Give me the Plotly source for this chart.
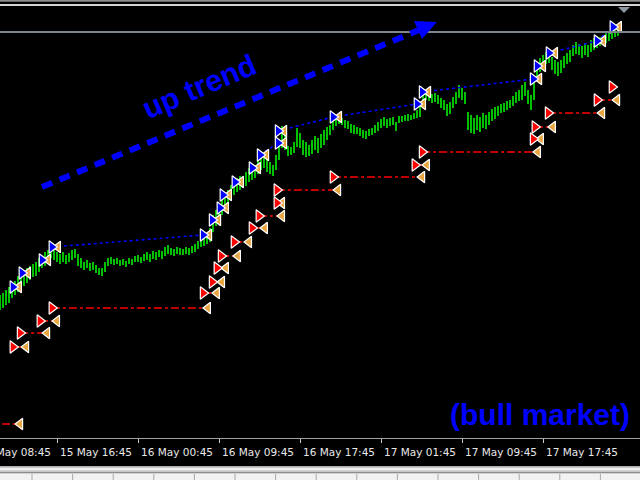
import plotly.graph_objects as go

# ---------------- data ----------------
bar_high = [
    1.3145, 1.3147, 1.3150, 1.3153, 1.3157, 1.3159, 1.3164, 1.3168, 1.3170, 1.3172,
    1.3174, 1.3176, 1.3178, 1.3182, 1.3184, 1.3188, 1.3190, 1.3193, 1.3192, 1.3188,
    1.3186, 1.3188, 1.3185, 1.3187, 1.3190, 1.3191, 1.3186, 1.3182, 1.3178, 1.3180,
    1.3177, 1.3178, 1.3175, 1.3172, 1.3172, 1.3178, 1.3182, 1.3183, 1.3181, 1.3182,
    1.3180, 1.3181, 1.3179, 1.3182, 1.3181, 1.3184, 1.3185, 1.3183, 1.3186, 1.3188,
    1.3186, 1.3189, 1.3188, 1.3190, 1.3189, 1.3193, 1.3195, 1.3192, 1.3191, 1.3193,
    1.3192, 1.3191, 1.3193, 1.3192, 1.3194, 1.3196, 1.3199, 1.3201, 1.3204, 1.3207,
    1.3212, 1.3225, 1.3230, 1.3235, 1.3242, 1.3245, 1.3250, 1.3255, 1.3260, 1.3262,
    1.3264, 1.3262, 1.3268, 1.3272, 1.3274, 1.3275, 1.3280, 1.3283, 1.3285, 1.3282,
    1.3278, 1.3275, 1.3285, 1.3300, 1.3314, 1.3305, 1.3294, 1.3293, 1.3298, 1.3312,
    1.3307, 1.3300, 1.3298, 1.3295, 1.3300, 1.3304, 1.3302, 1.3306, 1.3310, 1.3313,
    1.3315, 1.3321, 1.3323, 1.3324, 1.3322, 1.3320, 1.3319, 1.3316, 1.3315, 1.3313,
    1.3312, 1.3310, 1.3309, 1.3311, 1.3312, 1.3315, 1.3318, 1.3321, 1.3323, 1.3321,
    1.3322, 1.3323, 1.3318, 1.3324, 1.3324, 1.3325, 1.3326, 1.3325, 1.3327, 1.3330,
    1.3338, 1.3347, 1.3350, 1.3348, 1.3346, 1.3347, 1.3345, 1.3342, 1.3340, 1.3336,
    1.3338, 1.3343, 1.3348, 1.3355, 1.3352, 1.3348, 1.3328, 1.3325, 1.3322, 1.3325,
    1.3323, 1.3327, 1.3325, 1.3328, 1.3331, 1.3333, 1.3334, 1.3336, 1.3337, 1.3339,
    1.3340, 1.3344, 1.3348, 1.3350, 1.3355, 1.3358, 1.3350, 1.3345, 1.3358, 1.3376,
    1.3382, 1.3385, 1.3388, 1.3390, 1.3383, 1.3380, 1.3378, 1.3380, 1.3384, 1.3387,
    1.3390, 1.3395, 1.3398, 1.3396, 1.3394, 1.3397, 1.3395, 1.3400, 1.3402, 1.3404,
    1.3403, 1.3405, 1.3407, 1.3409, 1.3410, 1.3412, 1.3413,
]
bar_low = [
    1.3130, 1.3132, 1.3135, 1.3137, 1.3142, 1.3145, 1.3148, 1.3152, 1.3154, 1.3157,
    1.3160, 1.3163, 1.3164, 1.3168, 1.3172, 1.3174, 1.3178, 1.3182, 1.3180, 1.3178,
    1.3176, 1.3178, 1.3176, 1.3178, 1.3180, 1.3182, 1.3174, 1.3172, 1.3170, 1.3172,
    1.3169, 1.3170, 1.3167, 1.3165, 1.3164, 1.3168, 1.3174, 1.3176, 1.3175, 1.3176,
    1.3174, 1.3175, 1.3173, 1.3176, 1.3175, 1.3178, 1.3178, 1.3177, 1.3179, 1.3180,
    1.3178, 1.3181, 1.3180, 1.3183, 1.3181, 1.3184, 1.3186, 1.3185, 1.3184, 1.3186,
    1.3185, 1.3185, 1.3186, 1.3185, 1.3187, 1.3188, 1.3191, 1.3193, 1.3194, 1.3196,
    1.3198, 1.3208, 1.3214, 1.3218, 1.3225, 1.3230, 1.3235, 1.3240, 1.3245, 1.3248,
    1.3250, 1.3252, 1.3254, 1.3258, 1.3260, 1.3262, 1.3266, 1.3270, 1.3272, 1.3268,
    1.3266, 1.3264, 1.3270, 1.3280, 1.3292, 1.3290, 1.3284, 1.3285, 1.3287, 1.3293,
    1.3292, 1.3285, 1.3283, 1.3284, 1.3286, 1.3290, 1.3287, 1.3292, 1.3295, 1.3300,
    1.3305, 1.3310, 1.3314, 1.3316, 1.3315, 1.3312, 1.3311, 1.3307, 1.3306, 1.3306,
    1.3304, 1.3302, 1.3301, 1.3304, 1.3305, 1.3307, 1.3309, 1.3312, 1.3314, 1.3312,
    1.3314, 1.3315, 1.3309, 1.3317, 1.3318, 1.3319, 1.3319, 1.3320, 1.3321, 1.3322,
    1.3323, 1.3337, 1.3340, 1.3339, 1.3337, 1.3338, 1.3336, 1.3332, 1.3330, 1.3324,
    1.3326, 1.3332, 1.3336, 1.3342, 1.3340, 1.3336, 1.3310, 1.3307, 1.3306, 1.3310,
    1.3308, 1.3312, 1.3311, 1.3315, 1.3319, 1.3321, 1.3324, 1.3327, 1.3328, 1.3330,
    1.3332, 1.3334, 1.3337, 1.3339, 1.3340, 1.3344, 1.3336, 1.3330, 1.3340, 1.3360,
    1.3368, 1.3372, 1.3376, 1.3377, 1.3370, 1.3366, 1.3364, 1.3367, 1.3372, 1.3376,
    1.3378, 1.3384, 1.3386, 1.3385, 1.3382, 1.3385, 1.3383, 1.3388, 1.3390, 1.3392,
    1.3394, 1.3395, 1.3397, 1.3399, 1.3401, 1.3403, 1.3404,
]
bar_index = list(range(len(bar_high)))

# buy entries (blue arrows) and their close marks (orange triangles)
buy_x = [4.3, 7.3, 14, 17.3, 67.7, 70.7, 73.3, 74.3, 78.3, 84, 86.7, 92.7, 92.7,
         111, 139, 140.7, 177.7, 179, 183, 199, 204.3]
buy_price = [1.3153, 1.3167, 1.3180, 1.3193, 1.3205, 1.3220, 1.3232, 1.3245, 1.3258,
             1.3272, 1.3285, 1.3297, 1.3309, 1.3323, 1.3336, 1.3348, 1.3361, 1.3374,
             1.3387, 1.3399, 1.3413]
buy_exit_x = [6.3, 9.3, 16, 19.3, 69.7, 72.7, 75.3, 76.3, 80.3, 86, 88.7, 94.7, 94.7,
              113, 141, 142.7, 179.7, 181, 185, 201, 206.3]
buy_links = [(3, 4), (10, 11), (12, 13), (13, 14), (15, 16), (18, 19), (19, 20)]

# sell entries (red arrows) and their close marks
sell_x = [-5, 4.3, 6.7, 13.3, 17.3, 67.7, 70.7, 72.3, 73.7, 78, 84, 86.3, 92.3, 92.3,
          111, 138.3, 140.7, 177.7, 178.3, 182.7, 199, 204]
sell_price = [1.3016, 1.3093, 1.3107, 1.3119, 1.3132, 1.3147, 1.3158, 1.3172, 1.3184,
              1.3198, 1.3212, 1.3224, 1.3237, 1.3250, 1.3263, 1.3275, 1.3288, 1.3301,
              1.3313, 1.3327, 1.3340, 1.3353]
sell_exit_x = [6.7, 8.7, 15.7, 19, 69.3, 72.3, 74, 75.3, 79.3, 83, 88.3, 94, 94, 112.7,
               140.7, 142.3, 179.3, 180.3, 184.3, 200.7, 205.7, None]

bid_price = 1.3408

tick_bars = [-8, 19, 46, 73, 100, 127, 154, 181]
tick_labels = ["15 May 08:45", "15 May 16:45", "16 May 00:45", "16 May 09:45",
               "16 May 17:45", "17 May 01:45", "17 May 09:45", "17 May 17:45"]

# ---------------- figure ----------------
W, H, PLOT_H = 640, 480, 438
X_MAX = W / 3.0
PX_PER_BAR = 3.0


def px_x(x):
    return x / W


def px_y(y):
    return (PLOT_H - y) / PLOT_H


fig = go.Figure()

# price bars
bx, by = [], []
for i, h, l in zip(bar_index, bar_high, bar_low):
    bx += [i, i, None]
    by += [l, h, None]
fig.add_trace(go.Scatter(x=bx, y=by, mode="lines",
                         line=dict(color="#00c000", width=2), hoverinfo="skip"))

# blue trade lines
for a, b in buy_links:
    fig.add_trace(go.Scatter(x=[buy_x[a], buy_x[b]], y=[buy_price[a], buy_price[b]],
                             mode="lines", line=dict(color="#0000ff", width=1.6, dash="3px,3px"),
                             hoverinfo="skip"))

# red trade lines
for x, p, e in zip(sell_x, sell_price, sell_exit_x):
    if e is not None:
        fig.add_trace(go.Scatter(x=[x, e], y=[p, p], mode="lines",
                                 line=dict(color="#ff0000", width=1.6, dash="8px,3px,3px,3px"),
                                 hoverinfo="skip"))

# close triangles
ex = [e for e in buy_exit_x] + [e for e in sell_exit_x if e is not None]
ey = list(buy_price) + [p for p, e in zip(sell_price, sell_exit_x) if e is not None]
fig.add_trace(go.Scatter(x=ex, y=ey, mode="markers",
                         marker=dict(symbol="triangle-left", size=10, color="#e8a640",
                                     line=dict(color="white", width=1.2)),
                         hoverinfo="skip"))
# entry arrows
fig.add_trace(go.Scatter(x=sell_x, y=sell_price, mode="markers",
                         marker=dict(symbol="triangle-right", size=11, color="#ff0000",
                                     line=dict(color="white", width=1.2)),
                         hoverinfo="skip"))
fig.add_trace(go.Scatter(x=buy_x, y=buy_price, mode="markers",
                         marker=dict(symbol="triangle-right", size=11, color="#0000ff",
                                     line=dict(color="white", width=1.2)),
                         hoverinfo="skip"))

shapes = []
# bid line
shapes.append(dict(type="line", xref="paper", yref="y", x0=0, x1=1, y0=bid_price, y1=bid_price,
                   line=dict(color="#7f868e", width=2)))
# window frame top
shapes.append(dict(type="rect", xref="paper", yref="paper", x0=0, x1=1, y0=px_y(0), y1=px_y(1.8),
                   fillcolor="#8a8a8a", line=dict(width=0), layer="above"))
shapes.append(dict(type="rect", xref="paper", yref="paper", x0=0, x1=1, y0=px_y(4), y1=px_y(6),
                   fillcolor="#d4d4d4", line=dict(width=0), layer="above"))
# small shift marker at top right
shapes.append(dict(type="path", xref="paper", yref="paper",
                   path="M {} {} L {} {} L {} {} Z".format(px_x(618), px_y(7), px_x(630), px_y(7),
                                                        px_x(624), px_y(13)),
                   fillcolor="#8c959f", line=dict(width=0), layer="above"))
# big dashed trend arrow
shapes.append(dict(type="line", xref="paper", yref="paper", x0=px_x(42), y0=px_y(187),
                   x1=px_x(419), y1=px_y(30), line=dict(color="#0000ff", width=6, dash="11px,8px"),
                   layer="above"))
shapes.append(dict(type="path", xref="paper", yref="paper",
                   path="M {} {} L {} {} L {} {} Z".format(px_x(437), px_y(22), px_x(414), px_y(21),
                                                        px_x(422), px_y(39)),
                   fillcolor="#0000ff", line=dict(width=0), layer="above"))
# bottom window strip
shapes.append(dict(type="rect", xref="paper", yref="paper", x0=0, x1=1, y0=px_y(466), y1=px_y(480),
                   fillcolor="#f2f2f2", line=dict(width=0)))
shapes.append(dict(type="rect", xref="paper", yref="paper", x0=0, x1=1, y0=px_y(466), y1=px_y(467.7),
                   fillcolor="#b4b4b4", line=dict(width=0)))
shapes.append(dict(type="rect", xref="paper", yref="paper", x0=0, x1=1, y0=px_y(470.3), y1=px_y(472.3),
                   fillcolor="#c8c8c8", line=dict(width=0)))
shapes.append(dict(type="rect", xref="paper", yref="paper", x0=0, x1=1, y0=px_y(472.3), y1=px_y(473.3),
                   fillcolor="#707070", line=dict(width=0)))
for k in range(16):
    xx = 32 + 40.6 * k
    shapes.append(dict(type="line", xref="paper", yref="paper", x0=px_x(xx), x1=px_x(xx),
                       y0=px_y(474), y1=px_y(480), line=dict(color="#a8a8a8", width=1)))

annotations = []
for t, lab in zip(tick_bars, tick_labels):
    xa = max(t, 0)
    annotations.append(dict(x=xa, y=0, xref="x", yref="paper", text=lab, showarrow=False,
                            xanchor="left", yanchor="top", yshift=-6,
                            xshift=(t - xa) * PX_PER_BAR + 1,
                            font=dict(family="DejaVu Sans", size=10.5, color="#e8e8e8")))
annotations.append(dict(x=px_x(199), y=px_y(86), xref="paper", yref="paper", text="<b>up trend</b>",
                        showarrow=False, textangle=-23, xanchor="center", yanchor="middle",
                        font=dict(family="Liberation Sans", size=30, color="#0000ff")))
annotations.append(dict(x=px_x(540), y=px_y(414), xref="paper", yref="paper",
                        text="<b>(bull market)</b>", showarrow=False, xanchor="center",
                        yanchor="middle",
                        font=dict(family="Liberation Sans", size=30, color="#0000ff")))

fig.update_layout(
    width=W, height=H, showlegend=False,
    margin=dict(l=0, r=0, t=0, b=H - PLOT_H, pad=0),
    paper_bgcolor="black", plot_bgcolor="black",
    shapes=shapes, annotations=annotations,
    xaxis=dict(range=[0, X_MAX], showgrid=False, zeroline=False,
               tickvals=[t for t in tick_bars if t >= 0], showticklabels=False,
               ticks="outside", ticklen=4, tickcolor="#c8c8c8", tickwidth=1,
               showline=True, linecolor="#a0a0a0", linewidth=1, fixedrange=True),
    yaxis=dict(range=[1.3002, 1.3440], visible=False, showgrid=False, zeroline=False,
               fixedrange=True),
)

fig.write_html("out.html", config={"displayModeBar": False},
               post_script="document.body.style.margin='0';document.body.style.overflow='hidden';")
